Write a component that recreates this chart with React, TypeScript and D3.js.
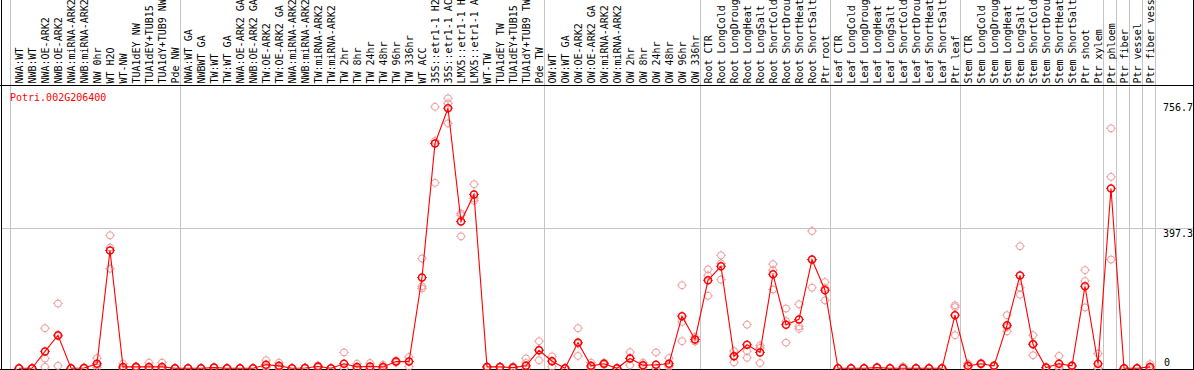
import React from "react";
import * as d3 from "d3";

const geneTitle = "Potri.002G206400";

// category labels as shown in the header (the header crops them at 14 characters)
const categories: string[] = [
  "NWA:WT", "NWB:WT", "NWA:OE-ARK2", "NWB:OE-ARK2", "NWA:miRNA-ARK2", "NWB:miRNA-ARK2",
  "NW 0hr", "WT H2O", "WT-NW", "TUA1dEY NW", "TUA1dEY+TUB15", "TUA1dY+TUB9 NW", "Pde NW",
  "NWA:WT GA", "NWBWT GA", "TW:WT", "TW:WT GA", "NWA:OE-ARK2 GA", "NWB:OE-ARK2 GA",
  "TW:OE-ARK2", "TW:OE-ARK2 GA", "NWA:miRNA-ARK2", "NWB:miRNA-ARK2", "TW:miRNA-ARK2",
  "TW:miRNA-ARK2", "TW 2hr", "TW 8hr", "TW 24hr", "TW 48hr", "TW 96hr", "TW 336hr",
  "WT ACC", "35S::etr1-1 H2", "35S::etr1-1 AC", "LMX5::etr1-1 H", "LMX5::etr1-1 A",
  "WT-TW", "TUA1dEY TW", "TUA1dEY+TUB15", "TUA1dY+TUB9 TW", "Pde TW",
  "OW:WT", "OW:WT GA", "OW:OE-ARK2", "OW:OE-ARK2 GA", "OW:miRNA-ARK2", "OW:miRNA-ARK2",
  "OW 2hr", "OW 8hr", "OW 24hr", "OW 48hr", "OW 96hr", "OW 336hr",
  "Root CTR", "Root LongCold", "Root LongDroug", "Root LongHeat", "Root LongSalt",
  "Root ShortCold", "Root ShortDrou", "Root ShortHeat", "Root ShortSalt", "Ptr root",
  "Leaf CTR", "Leaf LongCold", "Leaf LongDroug", "Leaf LongHeat", "Leaf LongSalt",
  "Leaf ShortCold", "Leaf ShortDrou", "Leaf ShortHeat", "Leaf ShortSalt", "Ptr leaf",
  "Stem CTR", "Stem LongCold", "Stem LongDroug", "Stem LongHeat", "Stem LongSalt",
  "Stem ShortCold", "Stem ShortDrou", "Stem ShortHeat", "Stem ShortSalt", "Ptr shoot",
  "Ptr xylem", "Ptr phloem", "Ptr fiber", "Ptr vessel", "Ptr fiber vess",
];

// mean expression (dark red line + markers)
const meanValues: number[] = [
  0, 0, 48, 94, 0, 1, 13, 335, 4, 4, 4, 4, 0,
  0, 0, 2, 0, 0, 0, 10, 7, 0, 1, 5, 0, 13, 4, 5, 4, 19, 19, 258, 639, 739, 417, 494, 4, 4, 2, 7, 51,
  20, 0, 73, 7, 13, 0, 28, 9, 10, 13, 148, 82,
  250, 290, 34, 67, 45, 267, 124, 139, 309, 222,
  0, 0, 0, 2, 0, 0, 0, 0, 0, 151,
  7, 13, 7, 122, 264, 68, 2, 13, 7, 233,
  13, 511, 0, 0, 4,
];

// replicate values (light markers)
const repA: number[] = [
  0, 0, 114, 184, 0, 2, 29, 378, 13, 6, 16, 16, 0,
  0, 0, 3, 0, 0, 0, 23, 16, 0, 2, 8, 0, 45, 13, 15, 10, 22, 32, 312, 743, 767, 440, 523, 5, 5, 5, 28, 77,
  34, 0, 114, 16, 16, 0, 46, 16, 45, 29, 236, 89,
  281, 321, 49, 124, 65, 296, 170, 182, 390, 245,
  0, 0, 0, 3, 0, 5, 0, 0, 0, 179,
  13, 15, 8, 151, 347, 94, 3, 35, 9, 279,
  42, 682, 0, 0, 12,
];
const repB: number[] = [
  0, 0, 28, 91, 0, 1, 8, 343, 0, 4, 0, 0, 0,
  0, 0, 2, 0, 0, 0, 5, 4, 0, 1, 5, 0, 0, 0, 0, 2, 19, 20, 233, 646, 753, 435, 483, 4, 4, 1, 15, 53,
  21, 0, 70, 4, 13, 0, 29, 8, 0, 8, 132, 82,
  264, 298, 36, 49, 58, 279, 134, 119, 308, 228,
  0, 0, 0, 2, 0, 0, 0, 0, 0, 174,
  5, 13, 7, 117, 229, 70, 2, 4, 7, 248,
  0, 544, 0, 0, 0,
];
const repC: number[] = [
  0, 0, 4, 7, 0, 0, 2, 283, 0, 2, 0, 0, 0,
  0, 0, 1, 0, 0, 0, 2, 1, 0, 0, 2, 0, 0, 0, 0, 0, 16, 5, 227, 527, 696, 375, 476, 3, 3, 0, 0, 23,
  5, 0, 35, 1, 10, 0, 9, 3, 0, 4, 77, 76,
  206, 252, 17, 30, 15, 224, 73, 112, 229, 193,
  0, 0, 0, 1, 0, 0, 0, 0, 0, 94,
  3, 11, 5, 105, 209, 37, 1, 0, 5, 173,
  0, 309, 0, 0, 0,
];

// index of last category in each group (a separator follows it)
const groupEnds: number[] = [12, 40, 52, 62, 72, 83, 84, 85, 86, 87];
const yTickValues: number[] = [0, 397.3, 756.7];
const yGridValues: number[] = [397.3];

const W = 1194;
const H = 370;
const MONO = "'DejaVu Sans Mono', 'Liberation Mono', monospace";

function Marker({ cx, cy, color, sw }: { cx: number; cy: number; color: string; sw: number }) {
  const r = 3.5;
  return (
    <g>
      <circle cx={cx} cy={cy} r={r} fill="none" stroke={color} strokeWidth={sw} />
      <path
        d={`M${cx},${cy - r}v-1.3M${cx},${cy + r}v1.3M${cx - r},${cy}h-1.3M${cx + r},${cy}h1.3`}
        stroke={color}
        strokeWidth={1}
        fill="none"
      />
    </g>
  );
}

export default function App() {
  const n = categories.length;
  const x = d3.scalePoint<number>().domain(d3.range(n)).range([19, 1150]);
  const step = x.step();
  const y = d3.scaleLinear().domain([0, 756.7]).range([368.3, 102]);

  const line = d3
    .line<number>()
    .x((_, i) => x(i) as number)
    .y((d) => y(d));

  const reps = [repA, repB, repC];

  return (
    <svg
      width={W}
      height={H}
      style={{ position: "absolute", left: 0, top: 0, display: "block", background: "#fff" }}
    >
      <rect x={0} y={0} width={W} height={H} fill="#fff" />
      {/* vertical separators */}
      <g stroke="#c4c4c4" strokeWidth={1} shapeRendering="crispEdges">
        <line x1={(x(0) as number) - step * 0.64} x2={(x(0) as number) - step * 0.64} y1={0} y2={H} />
        {groupEnds.map((g) => {
          const xx = (x(g) as number) + step * 0.42;
          return <line key={g} x1={xx} x2={xx} y1={0} y2={H} />;
        })}
        {yGridValues.map((v) => (
          <line key={v} x1={2} x2={W} y1={y(v)} y2={y(v)} />
        ))}
      </g>
      {/* frame */}
      <g stroke="#000" strokeWidth={1} shapeRendering="crispEdges">
        <line x1={1.5} x2={1.5} y1={0} y2={H} />
        <line x1={0} x2={W} y1={85.5} y2={85.5} />
        <line x1={0} x2={W} y1={369.5} y2={369.5} />
        <line x1={1193.5} x2={1193.5} y1={0} y2={H} />
      </g>
      {/* category labels */}
      <g fontFamily={MONO} fontSize={10} fill="#000">
        {categories.map((c, i) => (
          <text key={i} transform={`translate(${(x(i) as number) + 3.5},83.5) rotate(-90)`} textAnchor="start">
            {c}
          </text>
        ))}
      </g>
      {/* title */}
      <text x={10} y={101} fontFamily={MONO} fontSize={10} fill="#ff0000">
        {geneTitle}
      </text>
      {/* y tick labels */}
      <g fontFamily={MONO} fontSize={10} fill="#000">
        {yTickValues.map((v) => (
          <text key={v} x={v === 0 ? 1164 : 1163} y={Math.min(y(v) + 9, 366)}>
            {v === 0 ? "0" : v.toFixed(1)}
          </text>
        ))}
      </g>
      {/* replicates */}
      <g>
        {reps.map((arr, k) =>
          arr.map((v, i) => (
            <Marker key={`${k}-${i}`} cx={x(i) as number} cy={y(v)} color="#ee9a9a" sw={1} />
          ))
        )}
      </g>
      {/* mean line */}
      <path d={line(meanValues) || ""} fill="none" stroke="#ff0000" strokeWidth={1.1} />
      <g>
        {meanValues.map((v, i) => (
          <Marker key={i} cx={x(i) as number} cy={y(v)} color="#ff0000" sw={1.5} />
        ))}
      </g>
    </svg>
  );
}
